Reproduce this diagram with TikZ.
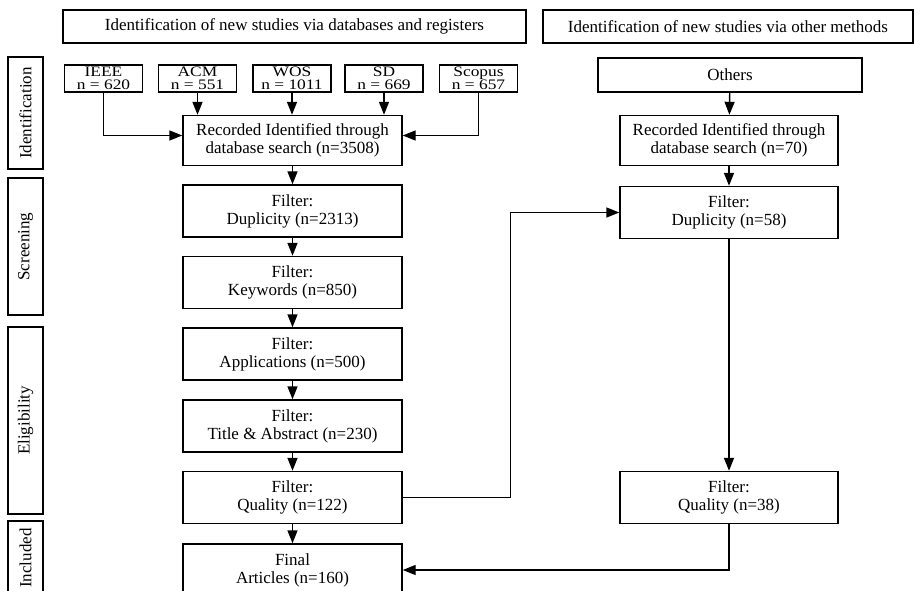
\documentclass[tikz,border=0pt]{standalone}
\usepackage{fontspec}
\setmainfont{Liberation Serif}
\usepackage{graphicx}
\usetikzlibrary{arrows.meta}
\newcommand{\wide}[1]{\scalebox{1.2}[1]{#1}}

\begin{document}
\begin{tikzpicture}[x=1pt,y=-1pt,line width=1.4pt,
  >={Triangle[length=13pt,width=10pt]},
  hdr/.style={draw,minimum height=33pt,inner sep=0pt,font=\fontsize{17}{18}\selectfont},
  phase/.style={draw,rotate=90,minimum height=35pt,inner sep=0pt,font=\fontsize{17}{18}\selectfont},
  src/.style={draw,minimum width=78pt,minimum height=27pt,inner sep=0pt,align=center,font=\fontsize{14.5}{13}\selectfont},
  box/.style={draw,minimum width=219pt,minimum height=52pt,inner sep=0pt,align=center,font=\fontsize{17}{18}\selectfont}]
  \useasboundingbox (0,0) rectangle (914,591);
  % headers
  \node[hdr,minimum width=463pt] (hdrL) at (294.5,26.5) {Identification of new studies via databases and registers};
  \node[hdr,minimum width=370pt] (hdrR) at (728,26.5) {Identification of new studies via other methods};
  % phases
  \node[phase,minimum width=112pt] (ph1) at (25.5,113) {Identification};
  \node[phase,minimum width=137pt] (ph2) at (25.5,246.5) {Screening};
  \node[phase,minimum width=187pt] (ph3) at (25.5,420.5) {Eligibility};
  \node[phase,minimum width=74pt] (ph4) at (25.5,558) {Included};
  % sources
  \node[src] (ieee) at (103.5,78.5) {\wide{IEEE}\\\wide{n = 620}};
  \node[src] (acm) at (197.5,78.5) {\wide{ACM}\\\wide{n = 551}};
  \node[src] (wos) at (292,78.5) {\wide{WOS}\\\wide{n = 1011}};
  \node[src] (sd) at (384,78.5) {\wide{SD}\\\wide{n = 669}};
  \node[src] (scopus) at (478.5,78.5) {\wide{Scopus}\\\wide{n = 657}};
  % left column
  \node[box,minimum height=50pt] (recL) at (292.5,140.5) {Recorded Identified through\\database search (n=3508)};
  \node[box] (dupL) at (292.5,211) {Filter:\\Duplicity (n=2313)};
  \node[box] (kwL) at (292.5,282.5) {Filter:\\Keywords (n=850)};
  \node[box] (appL) at (292.5,354) {Filter:\\Applications (n=500)};
  \node[box] (titL) at (292.5,426) {Filter:\\Title \& Abstract (n=230)};
  \node[box] (qualL) at (292.5,497.5) {Filter:\\Quality (n=122)};
  \node[box] (finL) at (292.5,570) {Final\\Articles (n=160)};
  % right column
  \node[box,minimum width=264pt,minimum height=34pt] (oth) at (730,75) {Others};
  \node[box,minimum width=218pt,minimum height=50pt] (recR) at (729,140.5) {Recorded Identified through\\database search (n=70)};
  \node[box,minimum width=218pt] (dupR) at (729,212.5) {Filter:\\Duplicity (n=58)};
  \node[box,minimum width=218pt] (qualR) at (729,497.5) {Filter:\\Quality (n=38)};
  % arrows
  \draw[->] (ieee.south) |- ([yshift=5pt]recL.west);
  \draw[->] (scopus.south) |- ([yshift=5pt]recL.east);
  \draw[->] (acm.south) -- (acm.south |- recL.north);
  \draw[->] (wos.south) -- (wos.south |- recL.north);
  \draw[->] (sd.south) -- (sd.south |- recL.north);
  \draw[->] (recL) -- (dupL);
  \draw[->] (dupL) -- (kwL);
  \draw[->] (kwL) -- (appL);
  \draw[->] (appL) -- (titL);
  \draw[->] (titL) -- (qualL);
  \draw[->] (qualL) -- (finL);
  \draw[->] (qualL.east) -- ++(108,0) |- (dupR.west);
  \draw[->] (oth) -- (recR);
  \draw[->] (recR) -- (dupR);
  \draw[->] (dupR) -- (qualR);
  \draw[->] (qualR.south) |- (finL.east);
\end{tikzpicture}
\end{document}
